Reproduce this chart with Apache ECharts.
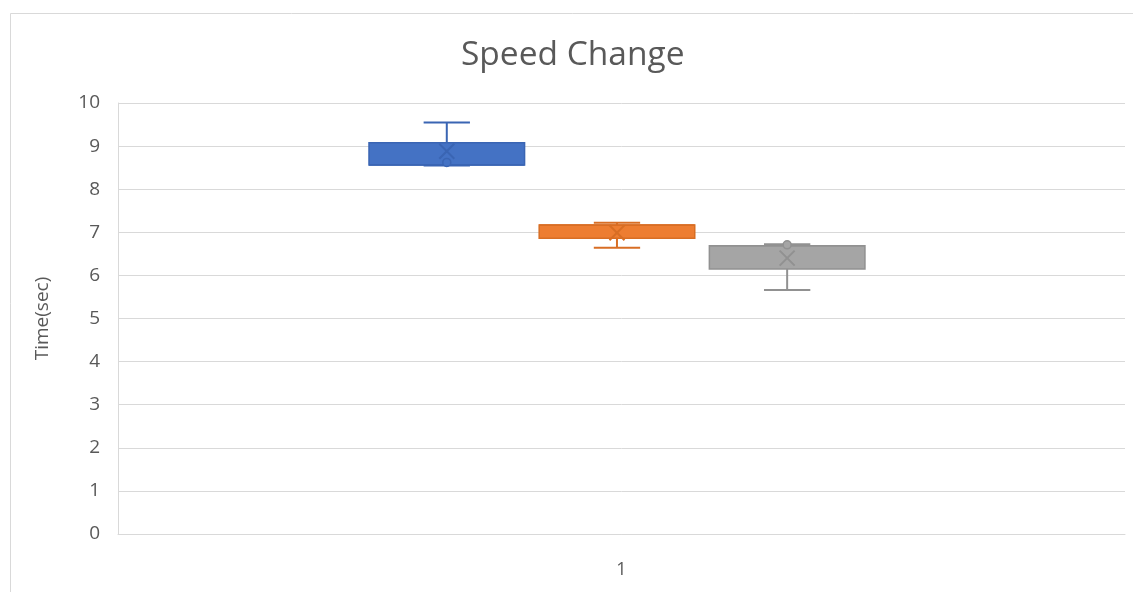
<!DOCTYPE html>
<html><head><meta charset="utf-8">
<script src="https://cdn.jsdelivr.net/npm/echarts@6/dist/echarts.min.js"></script>
<style>html,body{margin:0;padding:0;background:#fff}#c{width:1133px;height:592px}</style>
</head><body><div id="c"></div>
<script>
const categories = ['1'];
const seriesNames = ['Series 1', 'Series 2', 'Series 3'];
// [min, Q1, median, Q3, max]
const blueBox = [8.55, 8.56, 8.56, 9.08, 9.55];
const orangeBox = [6.64, 6.86, 7.17, 7.17, 7.22];
const grayBox = [5.66, 6.15, 6.69, 6.69, 6.72];
const means = [8.88, 6.99, 6.40];
const innerPoints = [[8.62], [], [6.71]];
const yTicks = [0, 10, 1];

const fills = ['#4472C4', '#ED7D31', '#A5A5A5'];
const strokes = ['#3A65B3', '#D86E24', '#919191'];
const boxes = [blueBox, orangeBox, grayBox];

function makeSeries(i) {
  return {
    type: 'custom',
    name: seriesNames[i],
    data: [[0].concat(boxes[i])],
    renderItem: function (params, api) {
      const band = api.size([1, 0])[0];
      const cx = api.coord([0, 0])[0] + (i - 1) * band * 0.1690 - band * 0.0045;
      const w = band * 0.1545;
      const cap = band * 0.046;
      const y = v => api.coord([0, v])[1];
      const b = boxes[i];
      const col = fills[i], st = strokes[i];
      const children = [];
      children.push({type: 'line', shape: {x1: cx, y1: y(b[4]), x2: cx, y2: y(b[3])}, style: {stroke: st, lineWidth: 2}});
      children.push({type: 'line', shape: {x1: cx, y1: y(b[0]), x2: cx, y2: y(b[1])}, style: {stroke: st, lineWidth: 2}});
      children.push({type: 'line', shape: {x1: cx - cap / 2, y1: y(b[4]), x2: cx + cap / 2, y2: y(b[4])}, style: {stroke: st, lineWidth: 2}});
      children.push({type: 'line', shape: {x1: cx - cap / 2, y1: y(b[0]), x2: cx + cap / 2, y2: y(b[0])}, style: {stroke: st, lineWidth: 2}});
      children.push({type: 'rect', shape: {x: cx - w / 2, y: y(b[3]), width: w, height: y(b[1]) - y(b[3])}, style: {fill: col, stroke: st, lineWidth: 1.5}});
      children.push({type: 'line', shape: {x1: cx - w / 2, y1: y(b[2]), x2: cx + w / 2, y2: y(b[2])}, style: {stroke: st, lineWidth: 1.5}});
      const my = y(means[i]), s = 7.5;
      children.push({type: 'line', shape: {x1: cx - s, y1: my - s, x2: cx + s, y2: my + s}, style: {stroke: st, lineWidth: 2}});
      children.push({type: 'line', shape: {x1: cx - s, y1: my + s, x2: cx + s, y2: my - s}, style: {stroke: st, lineWidth: 2}});
      innerPoints[i].forEach(p => {
        children.push({type: 'circle', shape: {cx: cx, cy: y(p), r: 4}, style: {fill: col, stroke: st, lineWidth: 1.5}});
      });
      return {type: 'group', children: children};
    }
  };
}

const chart = echarts.init(document.getElementById('c'), null, {renderer: 'canvas'});
chart.setOption({
  animation: false,
  backgroundColor: '#fff',
  graphic: [{type: 'rect', shape: {x: 10.5, y: 13.5, width: 1200, height: 700}, style: {fill: 'none', stroke: '#D9D9D9', lineWidth: 1}, silent: true, z: -10}],
  title: {text: 'Speed Change', left: 456, top: 33, textStyle: {fontFamily: 'Open Sans', fontSize: 33.5, fontWeight: 'normal', color: '#595959'}},
  grid: {left: 118, right: 8, top: 103, bottom: 58},
  xAxis: {
    type: 'category', data: categories,
    axisLine: {lineStyle: {color: '#D9D9D9', width: 1}},
    axisTick: {show: false},
    axisLabel: {fontFamily: 'Open Sans', fontSize: 18, color: '#595959', margin: 27}
  },
  yAxis: {
    type: 'value', min: yTicks[0], max: yTicks[1], interval: yTicks[2],
    name: 'Time(sec)', nameLocation: 'middle', nameGap: 66, nameRotate: 90,
    nameTextStyle: {fontFamily: 'Open Sans', fontSize: 19, color: '#595959'},
    axisLine: {show: true, lineStyle: {color: '#D9D9D9'}},
    axisTick: {show: false},
    splitLine: {lineStyle: {color: '#D9D9D9', width: 1}},
    axisLabel: {fontFamily: 'Open Sans', fontSize: 19, color: '#595959', margin: 18}
  },
  series: [0, 1, 2].map(makeSeries)
});
</script></body></html>
